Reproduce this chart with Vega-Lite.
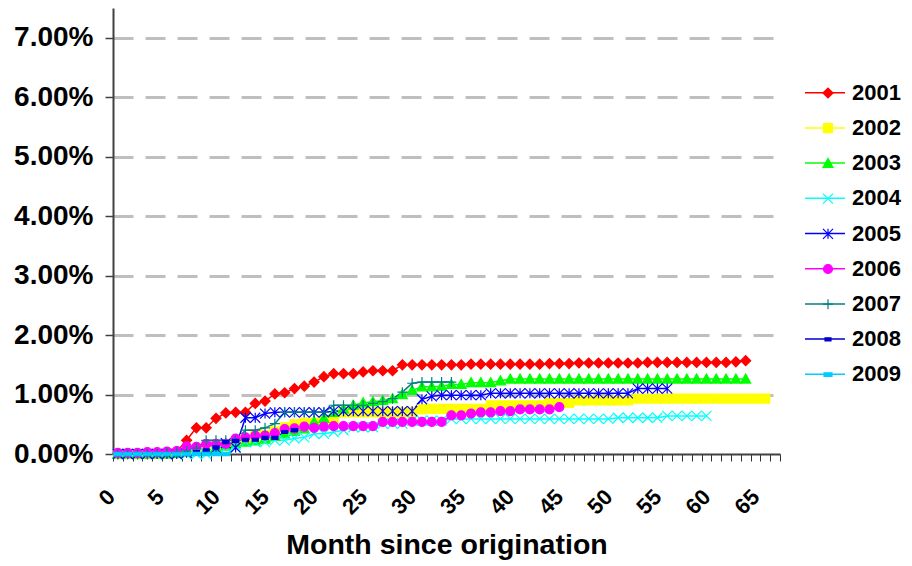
{
"$schema": "https://vega.github.io/schema/vega-lite/v6.json",
"width": 667, "height": 446,
"autosize": "none",
"padding": {"left": 113, "top": 8, "right": 132, "bottom": 112},
"config": {"view": {"stroke": null}, "font": "Liberation Sans"},
"data": {"values": [
{"s":"2001","m":0,"v":0},{"s":"2001","m":1,"v":0},{"s":"2001","m":2,"v":0},{"s":"2001","m":3,"v":0},{"s":"2001","m":4,"v":0.01},{"s":"2001","m":5,"v":0.02},{"s":"2001","m":6,"v":0.04},{"s":"2001","m":7,"v":0.23},{"s":"2001","m":8,"v":0.44},{"s":"2001","m":9,"v":0.44},{"s":"2001","m":10,"v":0.6},{"s":"2001","m":11,"v":0.69},{"s":"2001","m":12,"v":0.7},{"s":"2001","m":13,"v":0.7},{"s":"2001","m":14,"v":0.85},{"s":"2001","m":15,"v":0.89},{"s":"2001","m":16,"v":1.01},{"s":"2001","m":17,"v":1.03},{"s":"2001","m":18,"v":1.1},{"s":"2001","m":19,"v":1.14},{"s":"2001","m":20,"v":1.21},{"s":"2001","m":21,"v":1.3},{"s":"2001","m":22,"v":1.35},{"s":"2001","m":23,"v":1.35},{"s":"2001","m":24,"v":1.35},{"s":"2001","m":25,"v":1.38},{"s":"2001","m":26,"v":1.4},{"s":"2001","m":27,"v":1.4},{"s":"2001","m":28,"v":1.4},{"s":"2001","m":29,"v":1.5},{"s":"2001","m":30,"v":1.5},{"s":"2001","m":31,"v":1.5},{"s":"2001","m":32,"v":1.5},{"s":"2001","m":33,"v":1.5},{"s":"2001","m":34,"v":1.5},{"s":"2001","m":35,"v":1.5},{"s":"2001","m":36,"v":1.51},{"s":"2001","m":37,"v":1.51},{"s":"2001","m":38,"v":1.51},{"s":"2001","m":39,"v":1.51},{"s":"2001","m":40,"v":1.51},{"s":"2001","m":41,"v":1.51},{"s":"2001","m":42,"v":1.51},{"s":"2001","m":43,"v":1.51},{"s":"2001","m":44,"v":1.52},{"s":"2001","m":45,"v":1.52},{"s":"2001","m":46,"v":1.52},{"s":"2001","m":47,"v":1.53},{"s":"2001","m":48,"v":1.53},{"s":"2001","m":49,"v":1.53},{"s":"2001","m":50,"v":1.53},{"s":"2001","m":51,"v":1.53},{"s":"2001","m":52,"v":1.53},{"s":"2001","m":53,"v":1.53},{"s":"2001","m":54,"v":1.54},{"s":"2001","m":55,"v":1.54},{"s":"2001","m":56,"v":1.54},{"s":"2001","m":57,"v":1.54},{"s":"2001","m":58,"v":1.54},{"s":"2001","m":59,"v":1.54},{"s":"2001","m":60,"v":1.54},{"s":"2001","m":61,"v":1.54},{"s":"2001","m":62,"v":1.54},{"s":"2001","m":63,"v":1.55},{"s":"2001","m":64,"v":1.57},
{"s":"2002","m":0,"v":0},{"s":"2002","m":1,"v":0},{"s":"2002","m":2,"v":0},{"s":"2002","m":3,"v":0},{"s":"2002","m":4,"v":0},{"s":"2002","m":5,"v":0},{"s":"2002","m":6,"v":0.01},{"s":"2002","m":7,"v":0.03},{"s":"2002","m":8,"v":0.06},{"s":"2002","m":9,"v":0.1},{"s":"2002","m":10,"v":0.12},{"s":"2002","m":11,"v":0.15},{"s":"2002","m":12,"v":0.2},{"s":"2002","m":13,"v":0.25},{"s":"2002","m":14,"v":0.3},{"s":"2002","m":15,"v":0.32},{"s":"2002","m":16,"v":0.38},{"s":"2002","m":17,"v":0.45},{"s":"2002","m":18,"v":0.5},{"s":"2002","m":19,"v":0.53},{"s":"2002","m":20,"v":0.53},{"s":"2002","m":21,"v":0.54},{"s":"2002","m":22,"v":0.56},{"s":"2002","m":23,"v":0.7},{"s":"2002","m":24,"v":0.7},{"s":"2002","m":25,"v":0.7},{"s":"2002","m":26,"v":0.7},{"s":"2002","m":27,"v":0.7},{"s":"2002","m":28,"v":0.7},{"s":"2002","m":29,"v":0.7},{"s":"2002","m":30,"v":0.7},{"s":"2002","m":31,"v":0.75},{"s":"2002","m":32,"v":0.76},{"s":"2002","m":33,"v":0.76},{"s":"2002","m":34,"v":0.76},{"s":"2002","m":35,"v":0.76},{"s":"2002","m":36,"v":0.76},{"s":"2002","m":37,"v":0.76},{"s":"2002","m":38,"v":0.82},{"s":"2002","m":39,"v":0.82},{"s":"2002","m":40,"v":0.82},{"s":"2002","m":41,"v":0.82},{"s":"2002","m":42,"v":0.82},{"s":"2002","m":43,"v":0.82},{"s":"2002","m":44,"v":0.86},{"s":"2002","m":45,"v":0.86},{"s":"2002","m":46,"v":0.86},{"s":"2002","m":47,"v":0.9},{"s":"2002","m":48,"v":0.9},{"s":"2002","m":49,"v":0.9},{"s":"2002","m":50,"v":0.9},{"s":"2002","m":51,"v":0.9},{"s":"2002","m":52,"v":0.9},{"s":"2002","m":53,"v":0.93},{"s":"2002","m":54,"v":0.93},{"s":"2002","m":55,"v":0.93},{"s":"2002","m":56,"v":0.93},{"s":"2002","m":57,"v":0.93},{"s":"2002","m":58,"v":0.93},{"s":"2002","m":59,"v":0.93},{"s":"2002","m":60,"v":0.93},{"s":"2002","m":61,"v":0.93},{"s":"2002","m":62,"v":0.93},{"s":"2002","m":63,"v":0.93},{"s":"2002","m":64,"v":0.93},{"s":"2002","m":65,"v":0.93},{"s":"2002","m":66,"v":0.93},
{"s":"2003","m":0,"v":0},{"s":"2003","m":1,"v":0},{"s":"2003","m":2,"v":0},{"s":"2003","m":3,"v":0},{"s":"2003","m":4,"v":0},{"s":"2003","m":5,"v":0},{"s":"2003","m":6,"v":0.01},{"s":"2003","m":7,"v":0.03},{"s":"2003","m":8,"v":0.05},{"s":"2003","m":9,"v":0.08},{"s":"2003","m":10,"v":0.1},{"s":"2003","m":11,"v":0.13},{"s":"2003","m":12,"v":0.17},{"s":"2003","m":13,"v":0.2},{"s":"2003","m":14,"v":0.22},{"s":"2003","m":15,"v":0.25},{"s":"2003","m":16,"v":0.3},{"s":"2003","m":17,"v":0.34},{"s":"2003","m":18,"v":0.38},{"s":"2003","m":19,"v":0.42},{"s":"2003","m":20,"v":0.54},{"s":"2003","m":21,"v":0.6},{"s":"2003","m":22,"v":0.7},{"s":"2003","m":23,"v":0.76},{"s":"2003","m":24,"v":0.82},{"s":"2003","m":25,"v":0.86},{"s":"2003","m":26,"v":0.88},{"s":"2003","m":27,"v":0.9},{"s":"2003","m":28,"v":0.93},{"s":"2003","m":29,"v":1.0},{"s":"2003","m":30,"v":1.07},{"s":"2003","m":31,"v":1.13},{"s":"2003","m":32,"v":1.13},{"s":"2003","m":33,"v":1.14},{"s":"2003","m":34,"v":1.17},{"s":"2003","m":35,"v":1.17},{"s":"2003","m":36,"v":1.2},{"s":"2003","m":37,"v":1.2},{"s":"2003","m":38,"v":1.2},{"s":"2003","m":39,"v":1.23},{"s":"2003","m":40,"v":1.26},{"s":"2003","m":41,"v":1.26},{"s":"2003","m":42,"v":1.26},{"s":"2003","m":43,"v":1.26},{"s":"2003","m":44,"v":1.26},{"s":"2003","m":45,"v":1.26},{"s":"2003","m":46,"v":1.26},{"s":"2003","m":47,"v":1.26},{"s":"2003","m":48,"v":1.26},{"s":"2003","m":49,"v":1.26},{"s":"2003","m":50,"v":1.26},{"s":"2003","m":51,"v":1.26},{"s":"2003","m":52,"v":1.26},{"s":"2003","m":53,"v":1.26},{"s":"2003","m":54,"v":1.26},{"s":"2003","m":55,"v":1.26},{"s":"2003","m":56,"v":1.26},{"s":"2003","m":57,"v":1.26},{"s":"2003","m":58,"v":1.26},{"s":"2003","m":59,"v":1.26},{"s":"2003","m":60,"v":1.26},{"s":"2003","m":61,"v":1.26},{"s":"2003","m":62,"v":1.26},{"s":"2003","m":63,"v":1.26},{"s":"2003","m":64,"v":1.26},
{"s":"2004","m":0,"v":0},{"s":"2004","m":1,"v":0},{"s":"2004","m":2,"v":0},{"s":"2004","m":3,"v":0},{"s":"2004","m":4,"v":0},{"s":"2004","m":5,"v":0},{"s":"2004","m":6,"v":0},{"s":"2004","m":7,"v":0},{"s":"2004","m":8,"v":0},{"s":"2004","m":9,"v":0},{"s":"2004","m":10,"v":0.05},{"s":"2004","m":11,"v":0.11},{"s":"2004","m":12,"v":0.15},{"s":"2004","m":13,"v":0.2},{"s":"2004","m":14,"v":0.2},{"s":"2004","m":15,"v":0.2},{"s":"2004","m":16,"v":0.23},{"s":"2004","m":17,"v":0.23},{"s":"2004","m":18,"v":0.26},{"s":"2004","m":19,"v":0.28},{"s":"2004","m":20,"v":0.34},{"s":"2004","m":21,"v":0.34},{"s":"2004","m":22,"v":0.37},{"s":"2004","m":23,"v":0.4},{"s":"2004","m":24,"v":0.45},{"s":"2004","m":25,"v":0.45},{"s":"2004","m":26,"v":0.45},{"s":"2004","m":27,"v":0.51},{"s":"2004","m":28,"v":0.51},{"s":"2004","m":29,"v":0.51},{"s":"2004","m":30,"v":0.56},{"s":"2004","m":31,"v":0.56},{"s":"2004","m":32,"v":0.56},{"s":"2004","m":33,"v":0.56},{"s":"2004","m":34,"v":0.59},{"s":"2004","m":35,"v":0.59},{"s":"2004","m":36,"v":0.59},{"s":"2004","m":37,"v":0.59},{"s":"2004","m":38,"v":0.59},{"s":"2004","m":39,"v":0.59},{"s":"2004","m":40,"v":0.59},{"s":"2004","m":41,"v":0.59},{"s":"2004","m":42,"v":0.59},{"s":"2004","m":43,"v":0.59},{"s":"2004","m":44,"v":0.59},{"s":"2004","m":45,"v":0.59},{"s":"2004","m":46,"v":0.59},{"s":"2004","m":47,"v":0.59},{"s":"2004","m":48,"v":0.59},{"s":"2004","m":49,"v":0.59},{"s":"2004","m":50,"v":0.59},{"s":"2004","m":51,"v":0.61},{"s":"2004","m":52,"v":0.61},{"s":"2004","m":53,"v":0.61},{"s":"2004","m":54,"v":0.61},{"s":"2004","m":55,"v":0.61},{"s":"2004","m":56,"v":0.64},{"s":"2004","m":57,"v":0.64},{"s":"2004","m":58,"v":0.64},{"s":"2004","m":59,"v":0.64},{"s":"2004","m":60,"v":0.64},
{"s":"2005","m":0,"v":0},{"s":"2005","m":1,"v":0},{"s":"2005","m":2,"v":0},{"s":"2005","m":3,"v":0},{"s":"2005","m":4,"v":0},{"s":"2005","m":5,"v":0},{"s":"2005","m":6,"v":0},{"s":"2005","m":7,"v":0.02},{"s":"2005","m":8,"v":0.05},{"s":"2005","m":9,"v":0.08},{"s":"2005","m":10,"v":0.1},{"s":"2005","m":11,"v":0.18},{"s":"2005","m":12,"v":0.11},{"s":"2005","m":13,"v":0.61},{"s":"2005","m":14,"v":0.61},{"s":"2005","m":15,"v":0.68},{"s":"2005","m":16,"v":0.7},{"s":"2005","m":17,"v":0.7},{"s":"2005","m":18,"v":0.7},{"s":"2005","m":19,"v":0.7},{"s":"2005","m":20,"v":0.7},{"s":"2005","m":21,"v":0.7},{"s":"2005","m":22,"v":0.72},{"s":"2005","m":23,"v":0.72},{"s":"2005","m":24,"v":0.72},{"s":"2005","m":25,"v":0.72},{"s":"2005","m":26,"v":0.72},{"s":"2005","m":27,"v":0.72},{"s":"2005","m":28,"v":0.72},{"s":"2005","m":29,"v":0.72},{"s":"2005","m":30,"v":0.72},{"s":"2005","m":31,"v":0.92},{"s":"2005","m":32,"v":0.97},{"s":"2005","m":33,"v":0.99},{"s":"2005","m":34,"v":0.99},{"s":"2005","m":35,"v":0.99},{"s":"2005","m":36,"v":0.99},{"s":"2005","m":37,"v":0.99},{"s":"2005","m":38,"v":1.02},{"s":"2005","m":39,"v":1.02},{"s":"2005","m":40,"v":1.02},{"s":"2005","m":41,"v":1.02},{"s":"2005","m":42,"v":1.02},{"s":"2005","m":43,"v":1.02},{"s":"2005","m":44,"v":1.02},{"s":"2005","m":45,"v":1.02},{"s":"2005","m":46,"v":1.02},{"s":"2005","m":47,"v":1.02},{"s":"2005","m":48,"v":1.02},{"s":"2005","m":49,"v":1.02},{"s":"2005","m":50,"v":1.02},{"s":"2005","m":51,"v":1.02},{"s":"2005","m":52,"v":1.02},{"s":"2005","m":53,"v":1.1},{"s":"2005","m":54,"v":1.1},{"s":"2005","m":55,"v":1.1},{"s":"2005","m":56,"v":1.1},
{"s":"2006","m":0,"v":0.02},{"s":"2006","m":1,"v":0.02},{"s":"2006","m":2,"v":0.02},{"s":"2006","m":3,"v":0.03},{"s":"2006","m":4,"v":0.03},{"s":"2006","m":5,"v":0.04},{"s":"2006","m":6,"v":0.05},{"s":"2006","m":7,"v":0.13},{"s":"2006","m":8,"v":0.12},{"s":"2006","m":9,"v":0.17},{"s":"2006","m":10,"v":0.17},{"s":"2006","m":11,"v":0.17},{"s":"2006","m":12,"v":0.26},{"s":"2006","m":13,"v":0.28},{"s":"2006","m":14,"v":0.31},{"s":"2006","m":15,"v":0.31},{"s":"2006","m":16,"v":0.35},{"s":"2006","m":17,"v":0.42},{"s":"2006","m":18,"v":0.43},{"s":"2006","m":19,"v":0.46},{"s":"2006","m":20,"v":0.44},{"s":"2006","m":21,"v":0.46},{"s":"2006","m":22,"v":0.47},{"s":"2006","m":23,"v":0.47},{"s":"2006","m":24,"v":0.47},{"s":"2006","m":25,"v":0.47},{"s":"2006","m":26,"v":0.47},{"s":"2006","m":27,"v":0.54},{"s":"2006","m":28,"v":0.54},{"s":"2006","m":29,"v":0.54},{"s":"2006","m":30,"v":0.54},{"s":"2006","m":31,"v":0.54},{"s":"2006","m":32,"v":0.54},{"s":"2006","m":33,"v":0.54},{"s":"2006","m":34,"v":0.65},{"s":"2006","m":35,"v":0.65},{"s":"2006","m":36,"v":0.68},{"s":"2006","m":37,"v":0.7},{"s":"2006","m":38,"v":0.7},{"s":"2006","m":39,"v":0.72},{"s":"2006","m":40,"v":0.72},{"s":"2006","m":41,"v":0.75},{"s":"2006","m":42,"v":0.75},{"s":"2006","m":43,"v":0.75},{"s":"2006","m":44,"v":0.75},{"s":"2006","m":45,"v":0.79},
{"s":"2007","m":0,"v":0},{"s":"2007","m":1,"v":0},{"s":"2007","m":2,"v":0},{"s":"2007","m":3,"v":0},{"s":"2007","m":4,"v":0},{"s":"2007","m":5,"v":0.02},{"s":"2007","m":6,"v":0.03},{"s":"2007","m":7,"v":0.05},{"s":"2007","m":8,"v":0.1},{"s":"2007","m":9,"v":0.23},{"s":"2007","m":10,"v":0.23},{"s":"2007","m":11,"v":0.23},{"s":"2007","m":12,"v":0.23},{"s":"2007","m":13,"v":0.4},{"s":"2007","m":14,"v":0.4},{"s":"2007","m":15,"v":0.44},{"s":"2007","m":16,"v":0.51},{"s":"2007","m":17,"v":0.7},{"s":"2007","m":18,"v":0.7},{"s":"2007","m":19,"v":0.7},{"s":"2007","m":20,"v":0.7},{"s":"2007","m":21,"v":0.7},{"s":"2007","m":22,"v":0.82},{"s":"2007","m":23,"v":0.82},{"s":"2007","m":24,"v":0.82},{"s":"2007","m":25,"v":0.82},{"s":"2007","m":26,"v":0.85},{"s":"2007","m":27,"v":0.88},{"s":"2007","m":28,"v":0.93},{"s":"2007","m":29,"v":1.04},{"s":"2007","m":30,"v":1.19},{"s":"2007","m":31,"v":1.21},{"s":"2007","m":32,"v":1.21},{"s":"2007","m":33,"v":1.21},{"s":"2007","m":34,"v":1.21},
{"s":"2008","m":0,"v":0},{"s":"2008","m":1,"v":0},{"s":"2008","m":2,"v":0},{"s":"2008","m":3,"v":0},{"s":"2008","m":4,"v":0},{"s":"2008","m":5,"v":0},{"s":"2008","m":6,"v":0},{"s":"2008","m":7,"v":0},{"s":"2008","m":8,"v":0.03},{"s":"2008","m":9,"v":0.06},{"s":"2008","m":10,"v":0.11},{"s":"2008","m":11,"v":0.2},{"s":"2008","m":12,"v":0.22},{"s":"2008","m":13,"v":0.24},{"s":"2008","m":14,"v":0.24},{"s":"2008","m":15,"v":0.27},{"s":"2008","m":16,"v":0.27},{"s":"2008","m":17,"v":0.37},{"s":"2008","m":18,"v":0.4},
{"s":"2009","m":0,"v":0},{"s":"2009","m":1,"v":0},{"s":"2009","m":2,"v":0},{"s":"2009","m":3,"v":0},{"s":"2009","m":4,"v":0},{"s":"2009","m":5,"v":0},{"s":"2009","m":6,"v":0},{"s":"2009","m":7,"v":0},{"s":"2009","m":8,"v":0},{"s":"2009","m":9,"v":0},{"s":"2009","m":10,"v":0},{"s":"2009","m":11,"v":0}
]},
"resolve": {"axis": {"x": "independent"}},
"layer": [
{
"mark": {"type": "line", "strokeWidth": 1.5, "clip": false},
"encoding": {
"x": {"field": "m", "type": "quantitative",
"scale": {"domain": [-0.5, 67.5], "nice": false, "zero": false},
"axis": {
"orient": "bottom",
"values": [-0.5,0.5,1.5,2.5,3.5,4.5,5.5,6.5,7.5,8.5,9.5,10.5,11.5,12.5,13.5,14.5,15.5,16.5,17.5,18.5,19.5,20.5,21.5,22.5,23.5,24.5,25.5,26.5,27.5,28.5,29.5,30.5,31.5,32.5,33.5,34.5,35.5,36.5,37.5,38.5,39.5,40.5,41.5,42.5,43.5,44.5,45.5,46.5,47.5,48.5,49.5,50.5,51.5,52.5,53.5,54.5,55.5,56.5,57.5,58.5,59.5,60.5,61.5,62.5,63.5,64.5,65.5,66.5,67.5],
"labels": false,
"tickSize": 7, "tickWidth": 1, "tickColor": "#303030",
"domainColor": "#404040", "domainWidth": 2,
"grid": false,
"title": null
}},
"y": {"field": "v", "type": "quantitative",
"scale": {"domain": [0, 7.5], "nice": false},
"axis": {
"values": [0,1,2,3,4,5,6,7],
"labelExpr": "format(datum.value, '.2f') + '%'",
"labelFontSize": 28, "labelFontWeight": "bold", "labelColor": "black", "labelPadding": 12,
"tickSize": 8, "tickWidth": 1.5, "tickColor": "#404040",
"domainColor": "#404040", "domainWidth": 2,
"grid": true, "gridDash": [20, 12], "gridColor": "#BFBFBF", "gridWidth": 3,
"gridOpacity": {"condition": {"test": "datum.value === 0", "value": 0}, "value": 1},
"title": null
}},
"color": {"field": "s", "type": "nominal",
"scale": {"range": ["#FF0000","#FFFF00","#00FF00","#00FFFF","#0000FF","#FF00FF","#008080","#0000CC","#00CCFF"]},
"legend": {"orient": "none", "legendX": 691, "legendY": 63.7, "title": null, "padding": 0, "gridAlign": "all",
"symbolType": "stroke", "symbolSize": 1600, "symbolStrokeWidth": 1.5,
"labelFontSize": 22, "labelFontWeight": "bold", "labelColor": "black", "labelOffset": 6, "rowPadding": 3.2}}
}
},
{
"mark": {"type": "point", "filled": true, "size": 100, "strokeWidth": 1.2, "opacity": 1, "clip": false},
"encoding": {
"x": {"field": "m", "type": "quantitative",
"axis": {
"orient": "bottom",
"values": [0,5,10,15,20,25,30,35,40,45,50,55,60,65],
"ticks": false, "tickSize": 0, "domain": false, "grid": false,
"labelAngle": -45, "labelAlign": "right", "labelBaseline": "middle",
"labelFontSize": 22, "labelFontWeight": "bold", "labelColor": "black", "labelPadding": 39,
"labelOffset": {"condition": {"test": "datum.value < 10", "value": -7}, "value": 0},
"labelFlush": false, "labelOverlap": false,
"title": "Month since origination", "titleFontSize": 28.5, "titleFontWeight": "bold", "titleColor": "black",
"titleBaseline": "alphabetic", "titleY": 99
}},
"y": {"field": "v", "type": "quantitative"},
"fill": {"field": "s", "type": "nominal",
"scale": {"domain": ["2001","2002","2003","2004","2005","2006","2007","2008","2009"], "range": ["#FF0000","#FFFF00","#00FF00","#00FFFF","#0000FF","#FF00FF","#008080","#0000CC","#00CCFF"]}},
"stroke": {"field": "s", "type": "nominal",
"scale": {"domain": ["2001","2002","2003","2004","2005","2006","2007","2008","2009"], "range": ["#FF0000","#FFFF00","#00FF00","#00FFFF","#0000FF","#FF00FF","#008080","#0000CC","#00CCFF"]}},
"shape": {"field": "s", "type": "nominal",
"scale": {"domain": ["2001","2002","2003","2004","2005","2006","2007","2008","2009"],
"range": ["diamond", "M-0.9,-0.9H0.9V0.9H-0.9Z", "M0,-1L1,0.8L-1,0.8Z", "M-1,-1L1,1M-1,1L1,-1", "M-1,-1L1,1M-1,1L1,-1M0,-1L0,1", "M-0.9,0A0.9,0.9 0 1,0 0.9,0A0.9,0.9 0 1,0 -0.9,0Z", "M-1,0L1,0M0,-1L0,1", "M-0.6,-0.3H0.6V0.3H-0.6Z", "M-0.8,-0.35H0.8V0.35H-0.8Z"]},
"legend": {"orient": "none", "legendX": 704, "legendY": 74, "title": null, "padding": 0, "gridAlign": "all",
"symbolSize": 100, "symbolStrokeWidth": 1.2,
"labelExpr": "''",
"labelFontSize": 22, "labelFontWeight": "bold", "labelOpacity": 0, "labelOffset": 6, "rowPadding": 13.2}}
}
}
]
}
